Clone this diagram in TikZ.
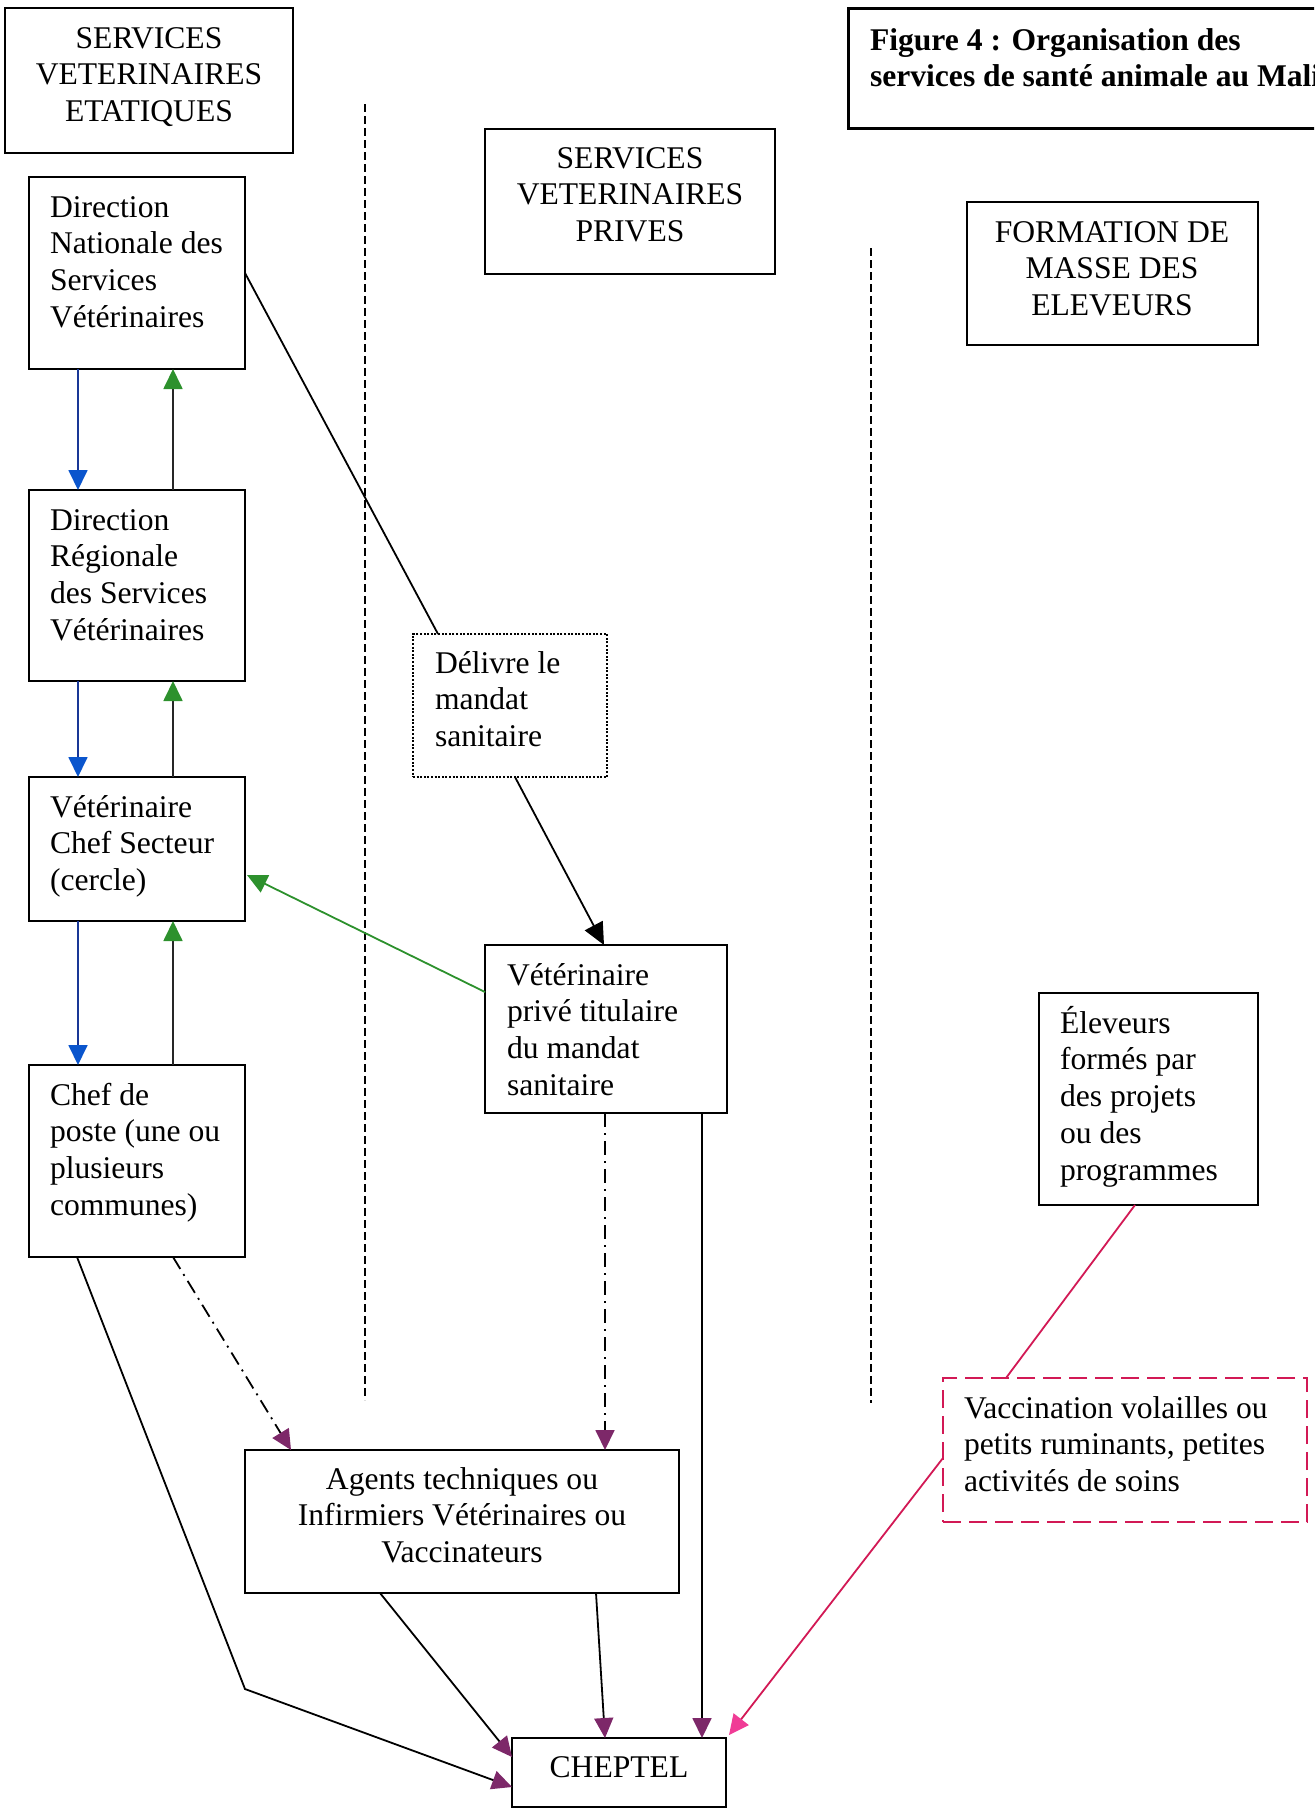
\documentclass[tikz,border=0pt]{standalone}
\usepackage{fontspec}
\setmainfont{Liberation Serif}
\usetikzlibrary{arrows.meta,calc}
\definecolor{bluel}{RGB}{25,55,150}
\definecolor{blueh}{RGB}{10,85,205}
\definecolor{greenh}{RGB}{45,145,45}
\definecolor{purh}{RGB}{125,40,105}
\definecolor{crim}{RGB}{210,25,85}
\definecolor{pinkh}{RGB}{240,60,150}
\newcommand\mkbox[6]{%
  \node[box,#6,minimum width={(#4-#2)*0.5pt},minimum height={(#5-#3)*0.5pt}] (#1) at ({(#2+#4)/2},{(#3+#5)/2}) {};}
\newcommand\ltxt[1]{\begin{tabular}[t]{@{}l@{}}#1\end{tabular}}
\newcommand\ctxt[1]{\begin{tabular}[t]{@{}c@{}}#1\end{tabular}}
\begin{document}
\begin{tikzpicture}[x=0.5pt,y=-0.5pt,
  box/.style={draw,line width=1pt,rectangle,inner sep=0pt,outer sep=0pt},
  txt/.style={inner sep=0pt,outer sep=0pt,font=\fontsize{15.8}{18.4}\selectfont},
  conn/.style={line width=0.9pt},
  sepline/.style={line width=0.9pt,dash pattern=on 4pt off 2pt},
  dashdot/.style={line width=0.9pt,dash pattern=on 7pt off 3pt on 1pt off 3pt},
  tipblue/.style={-{Triangle[length=10pt,width=9.5pt,color=blueh]}},
  tipgreen/.style={-{Triangle[length=10pt,width=9.5pt,color=greenh]}},
  tipblack/.style={-{Triangle[length=11pt,width=10pt,color=black]}},
  tippur/.style={-{Triangle[length=10pt,width=9.5pt,color=purh]}},
  tippink/.style={-{Triangle[length=10pt,width=9.5pt,color=pinkh]}}]
\useasboundingbox (0,0) rectangle (1314,1810);
\clip (0,0) rectangle (1314,1810);

% column headers
\mkbox{sve}{5}{8}{293}{153}{}
\node[txt,anchor=base] (svet) at (149,48) {\ctxt{SERVICES\\VETERINAIRES\\ETATIQUES}};
\mkbox{svp}{485}{129}{775}{274}{}
\node[txt,anchor=base] (svpt) at (630,168) {\ctxt{SERVICES\\VETERINAIRES\\PRIVES}};
\mkbox{fig}{848}{8}{1345}{128}{line width=1.5pt}
\node[txt,anchor=base west,font=\fontsize{15.8}{18.4}\selectfont\bfseries] (figt) at (870,50) {\ltxt{Figure 4 : Organisation des\\services de santé animale au Mali}};
\mkbox{form}{967}{202}{1258}{345}{}
\node[txt,anchor=base] (formt) at (1112,242) {\ctxt{FORMATION DE\\MASSE DES\\ELEVEURS}};

% separators
\coordinate (s1a) at (365,104); \coordinate (s1b) at (365,1400);
\coordinate (s2a) at (871,248); \coordinate (s2b) at (871,1403);
\draw[sepline] (s1a) -- (s1b);
\draw[sepline] (s2a) -- (s2b);

% left column
\mkbox{dnsv}{29}{177}{245}{369}{}
\node[txt,anchor=base west] (dnsvt) at (50,217) {\ltxt{Direction\\Nationale des\\Services\\Vétérinaires}};
\mkbox{drsv}{29}{490}{245}{681}{}
\node[txt,anchor=base west] (drsvt) at (50,530) {\ltxt{Direction\\Régionale\\des Services\\Vétérinaires}};
\mkbox{vcs}{29}{777}{245}{921}{}
\node[txt,anchor=base west] (vcst) at (50,817) {\ltxt{Vétérinaire\\Chef Secteur\\(cercle)}};
\mkbox{chef}{29}{1065}{245}{1257}{}
\node[txt,anchor=base west] (cheft) at (50,1105) {\ltxt{Chef de\\poste (une ou\\plusieurs\\communes)}};

% middle column
\mkbox{delivre}{413}{634}{607}{777}{dash pattern=on 1pt off 0.8pt}
\node[txt,anchor=base west] (delivret) at (435,673) {\ltxt{Délivre le\\mandat\\sanitaire}};
\mkbox{vpt}{485}{945}{727}{1113}{}
\node[txt,anchor=base west] (vptt) at (507,985) {\ltxt{Vétérinaire\\privé titulaire\\du mandat\\sanitaire}};
\mkbox{agents}{245}{1450}{679}{1593}{}
\node[txt,anchor=base] (agentst) at (462,1489) {\ctxt{Agents techniques ou\\Infirmiers Vétérinaires ou\\Vaccinateurs}};
\mkbox{chep}{512}{1738}{726}{1807}{}
\node[txt,anchor=base] (chept) at (619,1777) {CHEPTEL};

% right column
\mkbox{elev}{1039}{993}{1258}{1205}{}
\node[txt,anchor=base west] (elevt) at (1060,1033) {\ltxt{Éleveurs\\formés par\\des projets\\ou des\\programmes}};
\mkbox{vacc}{943}{1378}{1307}{1522}{draw=crim,dash pattern=on 9pt off 4pt}
\node[txt,anchor=base west] (vacct) at (964,1418) {\ltxt{Vaccination volailles ou\\petits ruminants, petites\\activités de soins}};

% hierarchy arrows
\draw[conn,bluel,tipblue] ($(dnsv.south west)+(49,0)$) -- ($(drsv.north west)+(49,0)$);
\draw[conn,black!85,tipgreen] ($(drsv.north west)+(144,0)$) -- ($(dnsv.south west)+(144,0)$);
\draw[conn,bluel,tipblue] ($(drsv.south west)+(49,0)$) -- ($(vcs.north west)+(49,0)$);
\draw[conn,black!85,tipgreen] ($(vcs.north west)+(144,0)$) -- ($(drsv.south west)+(144,0)$);
\draw[conn,bluel,tipblue] ($(vcs.south west)+(49,0)$) -- ($(chef.north west)+(49,0)$);
\draw[conn,black!85,tipgreen] ($(chef.north west)+(144,0)$) -- ($(vcs.south west)+(144,0)$);

% mandate
\draw[conn] (dnsv.east) -- ($(delivre.north west)+(25,0)$);
\draw[conn,tipblack] ($(delivre.south west)+(102,0)$) -- ($(vpt.north west)+(119,0)$);
\draw[conn,greenh,tipgreen] ($(vpt.north west)+(0,47)$) -- ($(vcs.north east)+(2,98)$);

% to agents
\draw[dashdot,tippur] ($(chef.south west)+(144,0)$) -- ($(agents.north west)+(46,0)$);
\draw[dashdot,tippur] ($(vpt.south west)+(120,0)$) -- ($(agents.north west)+(360,0)$);

% to cheptel
\coordinate (bend) at (245,1689);
\draw[conn,tippur] ($(chef.south west)+(48,0)$) -- (bend) -- ($(chep.south west)+(0,-20)$);
\draw[conn,tippur] ($(agents.south west)+(135,0)$) -- ($(chep.north west)+(0,19)$);
\draw[conn,tippur] ($(agents.south west)+(351,0)$) -- ($(chep.north west)+(93,0)$);
\draw[conn,tippur] ($(vpt.south west)+(217,0)$) -- ($(chep.north west)+(190,0)$);

% eleveurs
\draw[conn,crim] ($(elev.south west)+(96,0)$) -- ($(vacc.north west)+(63,0)$);
\draw[conn,crim,tippink] ($(vacc.north west)+(0,80)$) -- ($(chep.north east)+(3,-3)$);
\end{tikzpicture}
\end{document}
